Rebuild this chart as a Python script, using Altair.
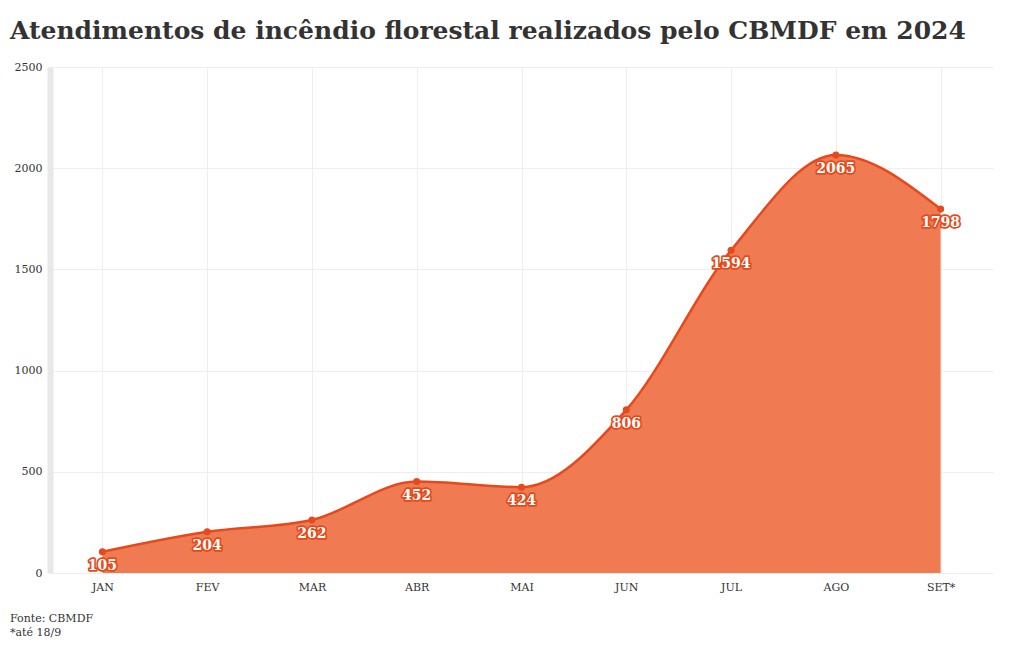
import altair as alt
import pandas as pd

months = ["JAN", "FEV", "MAR", "ABR", "MAI", "JUN", "JUL", "AGO", "SET*"]
values = [105, 204, 262, 452, 424, 806, 1594, 2065, 1798]
y_ticks = [0, 500, 1000, 1500, 2000, 2500]
title_text = "Atendimentos de incêndio florestal realizados pelo CBMDF em 2024"
footer_lines = ["Fonte: CBMDF", "*até 18/9"]

df = pd.DataFrame({"mes": months, "valor": values})
FONT = "DejaVu Serif"
LINE = "#e54a1c"
FILL = "#f07b52"

x = alt.X("mes:N", sort=months, title=None,
          scale=alt.Scale(type="point", padding=0.5),
          axis=alt.Axis(labelAngle=0, labelFont=FONT, labelFontSize=11, labelColor="#333",
                        domain=False, ticks=False, grid=True, gridColor="#eeeeee",
                        labelPadding=8))
y = alt.Y("valor:Q", title=None,
          scale=alt.Scale(domain=[0, 2500], nice=False),
          axis=alt.Axis(values=y_ticks, format="d", labelFont=FONT, labelFontSize=11,
                        labelColor="#333",
                        domain=True, domainColor="#e8e8e8", domainWidth=6, ticks=False,
                        grid=True, gridColor="#eeeeee", labelPadding=8))

base = alt.Chart(df).encode(x=x, y=y)

area = base.mark_area(interpolate="monotone", color=FILL, opacity=1)
line = base.mark_line(interpolate="monotone", color=LINE, strokeWidth=2.5)
pts = base.mark_circle(color=LINE, size=50, opacity=1)
halo = base.mark_text(font=FONT, fontSize=14, fontWeight="bold", dy=14,
                      stroke=LINE, strokeWidth=3.5, strokeJoin="round", color=LINE).encode(text="valor:Q")
lbl = base.mark_text(font=FONT, fontSize=14, fontWeight="bold", dy=14,
                     color="white").encode(text="valor:Q")

foot1 = alt.Chart(pd.DataFrame({"t": [footer_lines[0]]})).mark_text(
    font=FONT, fontSize=11, color="#333", align="left", baseline="middle").encode(
    text="t:N", x=alt.value(-40), y=alt.value(552))
foot2 = alt.Chart(pd.DataFrame({"t": [footer_lines[1]]})).mark_text(
    font=FONT, fontSize=11, color="#333", align="left", baseline="middle").encode(
    text="t:N", x=alt.value(-40), y=alt.value(566))

chart = alt.layer(area, line, pts, halo, lbl, foot1, foot2).properties(
    width=943, height=506,
    autosize=alt.AutoSizeParams(type="none"),
    padding={"left": 42, "top": 59, "right": 19, "bottom": 69},
    title=alt.TitleParams(title_text, anchor="start", frame="group", font=FONT, fontSize=25,
                          fontWeight="bold", color="#333", dx=-40, offset=17),
).configure_view(stroke=None)

chart.save("out.html", embed_options={"renderer": "svg", "actions": False})
